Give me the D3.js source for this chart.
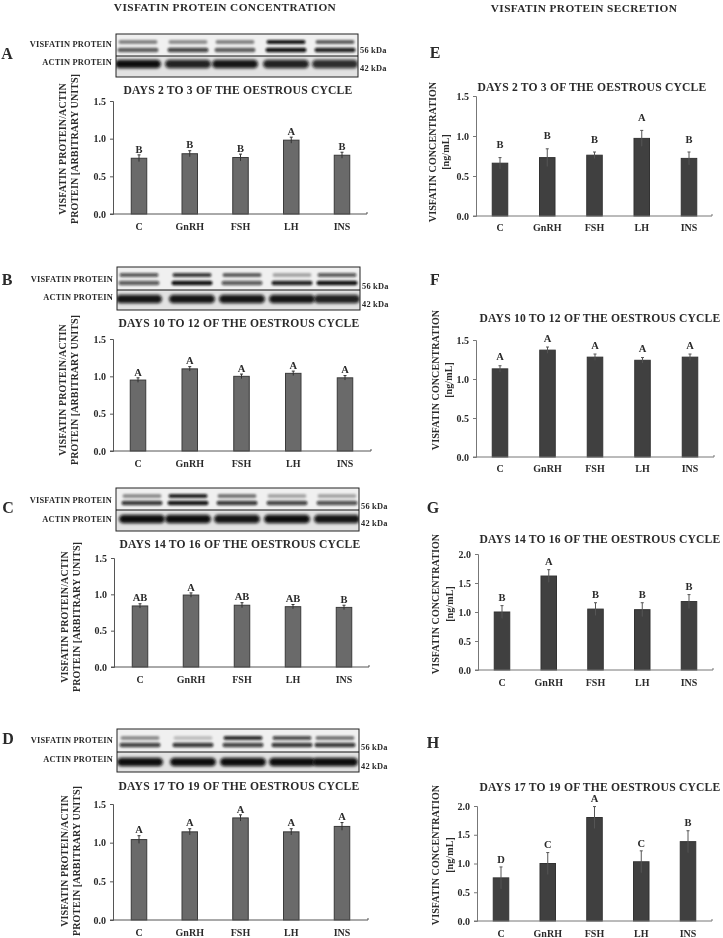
<!DOCTYPE html>
<html><head><meta charset="utf-8">
<script src="https://cdnjs.cloudflare.com/ajax/libs/d3/7.8.5/d3.min.js"></script>
<style>html,body{margin:0;padding:0;background:#fff}svg{display:block}
text{font-family:"Liberation Serif",serif;font-weight:bold;fill:#2a2a2a}</style>
</head><body><svg id="c" width="723" height="938"></svg>
<script>
const categories = ["C","GnRH","FSH","LH","INS"];
const columnTitles = ["VISFATIN PROTEIN CONCENTRATION","VISFATIN PROTEIN SECRETION"];
const panelLetters = ["A","B","C","D","E","F","G","H"];
const panelTitles = ["DAYS 2 TO 3 OF THE OESTROUS CYCLE","DAYS 10 TO 12 OF THE OESTROUS CYCLE","DAYS 14 TO 16 OF THE OESTROUS CYCLE","DAYS 17 TO 19 OF THE OESTROUS CYCLE"];
const yLabelLeft = ["VISFATIN PROTEIN/ACTIN","PROTEIN [ARBITRARY UNITS]"];
const yLabelRight = ["VISFATIN CONCENTRATION","[ng/mL]"];
const valuesA = [0.74,0.80,0.75,0.98,0.78], errorsA = [0.045,0.04,0.045,0.04,0.04], lettersA = ["B","B","B","A","B"];
const valuesB = [0.95,1.10,1.00,1.04,0.98], errorsB = [0.03,0.03,0.03,0.03,0.03], lettersB = ["A","A","A","A","A"];
const valuesC = [0.84,0.99,0.85,0.83,0.82], errorsC = [0.03,0.03,0.035,0.03,0.03], lettersC = ["AB","A","AB","AB","B"];
const valuesD = [1.04,1.14,1.32,1.14,1.21], errorsD = [0.05,0.04,0.04,0.04,0.05], lettersD = ["A","A","A","A","A"];
const valuesE = [0.66,0.73,0.76,0.97,0.72], errorsE = [0.07,0.11,0.04,0.10,0.08], lettersE = ["B","B","B","A","B"];
const valuesF = [1.13,1.37,1.28,1.24,1.28], errorsF = [0.04,0.04,0.04,0.035,0.04], lettersF = ["A","A","A","A","A"];
const valuesG = [1.00,1.62,1.05,1.04,1.18], errorsG = [0.11,0.11,0.11,0.12,0.12], lettersG = ["B","A","B","B","B"];
const valuesH = [0.75,1.00,1.80,1.03,1.38], errorsH = [0.19,0.19,0.19,0.19,0.19], lettersH = ["D","C","A","C","B"];
const upperBandA=[.45,.40,.45,.95,.60], lowerBandA=[.60,.75,.60,.97,.90], actinBandA=[.98,.90,.95,.90,.85];
const upperBandB=[.65,.80,.60,.30,.65], lowerBandB=[.65,.98,.65,.90,.98], actinBandB=[.95,.95,.95,.95,.90];
const upperBandC=[.40,.90,.50,.30,.30], lowerBandC=[.80,.95,.80,.75,.70], actinBandC=[.98,.98,.95,.98,.95];
const upperBandD=[.40,.20,.85,.70,.50], lowerBandD=[.75,.80,.75,.80,.80], actinBandD=[.98,.98,.98,.98,.98];

const leftAxisColor="#555", rightAxisColor="#777";
const charts = [
 {id:"A",v:valuesA,e:errorsA,l:lettersA,max:1.5,tick:.5,ax:113,top:101,bot:214,right:367,c0:139,c4:342,catY:226,gap:6,title:[238,90],yl:[62,74,149],lt:[7,53],bar:"#6a6a6a",edge:"#3a3a3a",axis:leftAxisColor},
 {id:"B",v:valuesB,e:errorsB,l:lettersB,max:1.5,tick:.5,ax:113,top:339,bot:451,right:371,c0:138,c4:345,catY:463,gap:6,title:[239,323],yl:[62,74,390],lt:[7,279],bar:"#6a6a6a",edge:"#3a3a3a",axis:leftAxisColor},
 {id:"C",v:valuesC,e:errorsC,l:lettersC,max:1.5,tick:.5,ax:114,top:558,bot:667,right:369,c0:140,c4:344,catY:679,gap:6,title:[240,544],yl:[64,76,617],lt:[8,507],bar:"#6a6a6a",edge:"#3a3a3a",axis:leftAxisColor},
 {id:"D",v:valuesD,e:errorsD,l:lettersD,max:1.5,tick:.5,ax:113,top:804,bot:920,right:368,c0:139,c4:342,catY:932,gap:6,title:[239,786],yl:[64,76,861],lt:[8,738],bar:"#6a6a6a",edge:"#3a3a3a",axis:leftAxisColor},
 {id:"E",v:valuesE,e:errorsE,l:lettersE,max:1.5,tick:.5,ax:476,top:96,bot:216,right:712,c0:500,c4:689,catY:227,gap:13,title:[592,87],yl:[432,445,152],lt:[435,52],bar:"#404040",edge:"#333",axis:rightAxisColor},
 {id:"F",v:valuesF,e:errorsF,l:lettersF,max:1.5,tick:.5,ax:476,top:340,bot:457,right:714,c0:500,c4:690,catY:468,gap:9,title:[600,318],yl:[435,448,380],lt:[435,279],bar:"#404040",edge:"#333",axis:rightAxisColor},
 {id:"G",v:valuesG,e:errorsG,l:lettersG,max:2,tick:.5,ax:478,top:554,bot:670,right:713,c0:502,c4:689,catY:682,gap:8,title:[600,539],yl:[435,449,604],lt:[433,507],bar:"#404040",edge:"#333",axis:rightAxisColor},
 {id:"H",v:valuesH,e:errorsH,l:lettersH,max:2,tick:.5,ax:477,top:806,bot:921,right:712,c0:501,c4:688,catY:933,gap:8,title:[600,787],yl:[435,449,855],lt:[433,742],bar:"#404040",edge:"#333",axis:rightAxisColor}
];
const blots = [
 {u:upperBandA,w:lowerBandA,a:actinBandA,x0:116,x1:358,top:34,div:56,bot:77,uy:42,ly:50,ay:64,lanes:[138,188,235,286,335],visY:44,actY:62,k56:50,k42:68},
 {u:upperBandB,w:lowerBandB,a:actinBandB,x0:117,x1:360,top:267,div:290,bot:310,uy:275,ly:283,ay:299,lanes:[139,192,242,292,337],visY:279,actY:297,k56:286,k42:304},
 {u:upperBandC,w:lowerBandC,a:actinBandC,x0:116,x1:359,top:488,div:510,bot:531,uy:496,ly:503,ay:519,lanes:[142,188,237,287,337],visY:500,actY:519,k56:506,k42:523},
 {u:upperBandD,w:lowerBandD,a:actinBandD,x0:117,x1:359,top:729,div:752,bot:772,uy:738,ly:745,ay:762,lanes:[140,193,243,292,335],visY:740,actY:759,k56:747,k42:766}
];

const svg = d3.select("#c");
const defs = svg.append("defs");
defs.append("filter").attr("id","soft").attr("x","-2%").attr("y","-2%").attr("width","104%").attr("height","104%")
  .append("feGaussianBlur").attr("stdDeviation",0.4);
defs.append("filter").attr("id","band").attr("x","-20%").attr("y","-150%").attr("width","140%").attr("height","400%")
  .append("feGaussianBlur").attr("stdDeviation",1.3);
defs.append("filter").attr("id","bandWide").attr("x","-20%").attr("y","-100%").attr("width","140%").attr("height","300%")
  .append("feGaussianBlur").attr("stdDeviation",1.7);
const root = svg.append("g").attr("filter","url(#soft)");
root.append("rect").attr("x",0).attr("y",0).attr("width",723).attr("height",938).attr("fill","#fff");

root.append("text").attr("x",225).attr("y",11).attr("text-anchor","middle").attr("font-size",11.3).attr("letter-spacing",.4).text(columnTitles[0]);
root.append("text").attr("x",584).attr("y",12).attr("text-anchor","middle").attr("font-size",11.3).attr("letter-spacing",.4).text(columnTitles[1]);

blots.forEach((b,i)=>{
  const g = root.append("g");
  const cid = "clip"+i;
  defs.append("clipPath").attr("id",cid).append("rect").attr("x",b.x0).attr("y",b.top).attr("width",b.x1-b.x0).attr("height",b.bot-b.top);
  g.append("rect").attr("x",b.x0).attr("y",b.top).attr("width",b.x1-b.x0).attr("height",b.bot-b.top).attr("fill","#f0f0f0");
  const inner = g.append("g").attr("clip-path",`url(#${cid})`);
  const draw = (vals,y,h,w,f)=> inner.append("g").selectAll("rect").data(vals).join("rect")
    .attr("x",(d,j)=>b.lanes[j]-w/2).attr("width",w).attr("y",y-h/2).attr("height",h).attr("rx",h/2)
    .attr("fill","#0a0a0a").attr("fill-opacity",d=>d).attr("filter",`url(#${f})`);
  inner.append("rect").attr("x",b.x0).attr("y",b.div).attr("width",b.x1-b.x0).attr("height",b.bot-b.div).attr("fill","#e2e2e2");
  draw(b.u,b.uy,4,39,"band");
  draw(b.w,b.ly,4.6,41,"band");
  draw(b.a,b.ay,8.5,46,"bandWide");
  g.append("rect").attr("x",b.x0).attr("y",b.top).attr("width",b.x1-b.x0).attr("height",b.bot-b.top).attr("fill","none").attr("stroke","#222").attr("stroke-width",1);
  g.append("line").attr("x1",b.x0).attr("x2",b.x1).attr("y1",b.div).attr("y2",b.div).attr("stroke","#111").attr("stroke-width",1);
  const t=(x,y,s,a)=>g.append("text").attr("x",x).attr("y",y).attr("dy","0.33em").attr("text-anchor",a).attr("font-size",8.4).attr("letter-spacing",.2).text(s);
  t(b.x0-4,b.visY,"VISFATIN PROTEIN","end");
  t(b.x0-4,b.actY,"ACTIN PROTEIN","end");
  t(b.x1+2,b.k56,"56 kDa","start");
  t(b.x1+2,b.k42,"42 kDa","start");
});

charts.forEach((c,i)=>{
  const g = root.append("g");
  const y = d3.scaleLinear().domain([0,c.max]).range([c.bot,c.top]);
  const x = d3.scalePoint().domain(categories).range([c.c0,c.c4]);
  const barW = 15.5;
  const rows = categories.map((k,j)=>({k,v:c.v[j],e:c.e[j],l:c.l[j]}));

  g.append("text").attr("x",c.lt[0]).attr("y",c.lt[1]).attr("dy","0.35em").attr("text-anchor","middle").attr("font-size",16).text(panelLetters[i]);
  g.append("text").attr("x",c.title[0]).attr("y",c.title[1]).attr("dy","0.35em").attr("text-anchor","middle").attr("font-size",11.6).attr("letter-spacing",.2).text(panelTitles[i%4]);

  const yl = i<4?yLabelLeft:yLabelRight;
  yl.forEach((s,j)=>g.append("text").attr("transform",`translate(${c.yl[j]},${c.yl[2]}) rotate(-90)`).attr("dy","0.35em").attr("text-anchor","middle").attr("font-size",10).attr("letter-spacing",.1).text(s));

  g.selectAll(".bar").data(rows).join("rect").attr("class","bar")
    .attr("x",d=>x(d.k)-barW/2).attr("width",barW).attr("y",d=>y(d.v)).attr("height",d=>c.bot-y(d.v))
    .attr("fill",c.bar).attr("stroke",c.edge).attr("stroke-width",1);

  const errCol = i<4?"#333":"#555";
  g.selectAll(".err").data(rows).join("line").attr("class","err")
    .attr("x1",d=>x(d.k)).attr("x2",d=>x(d.k)).attr("y1",d=>y(d.v-d.e)).attr("y2",d=>y(d.v+d.e)).attr("stroke",errCol).attr("stroke-width",1);
  g.selectAll(".cap").data(rows).join("line").attr("class","cap")
    .attr("x1",d=>x(d.k)-1.5).attr("x2",d=>x(d.k)+1.5).attr("y1",d=>y(d.v+d.e)).attr("y2",d=>y(d.v+d.e)).attr("stroke",errCol).attr("stroke-width",1);

  g.selectAll(".sig").data(rows).join("text").attr("class","sig")
    .attr("x",d=>x(d.k)).attr("y",d=>y(d.v+d.e)-c.gap).attr("dy","0.35em").attr("text-anchor","middle").attr("font-size",10.5).text(d=>d.l);

  const ya = g.append("g").attr("transform",`translate(${c.ax},0)`)
    .call(d3.axisLeft(y).tickValues(d3.range(0,c.max+.01,c.tick)).tickFormat(d3.format(".1f")).tickSize(3).tickPadding(4));
  ya.selectAll("path,line").attr("stroke",c.axis);
  ya.selectAll("text").attr("font-size",10).attr("font-family",'"Liberation Serif",serif').attr("fill","#2a2a2a");

  g.append("line").attr("x1",c.ax-3).attr("x2",c.right).attr("y1",c.bot).attr("y2",c.bot).attr("stroke",c.axis).attr("stroke-width",1);
  g.append("line").attr("x1",c.right).attr("x2",c.right).attr("y1",c.bot-2).attr("y2",c.bot).attr("stroke",c.axis).attr("stroke-width",1);

  g.selectAll(".cat").data(categories).join("text").attr("class","cat")
    .attr("x",d=>x(d)).attr("y",c.catY).attr("dy","0.35em").attr("text-anchor","middle").attr("font-size",10).text(d=>d);
});
</script></body></html>
